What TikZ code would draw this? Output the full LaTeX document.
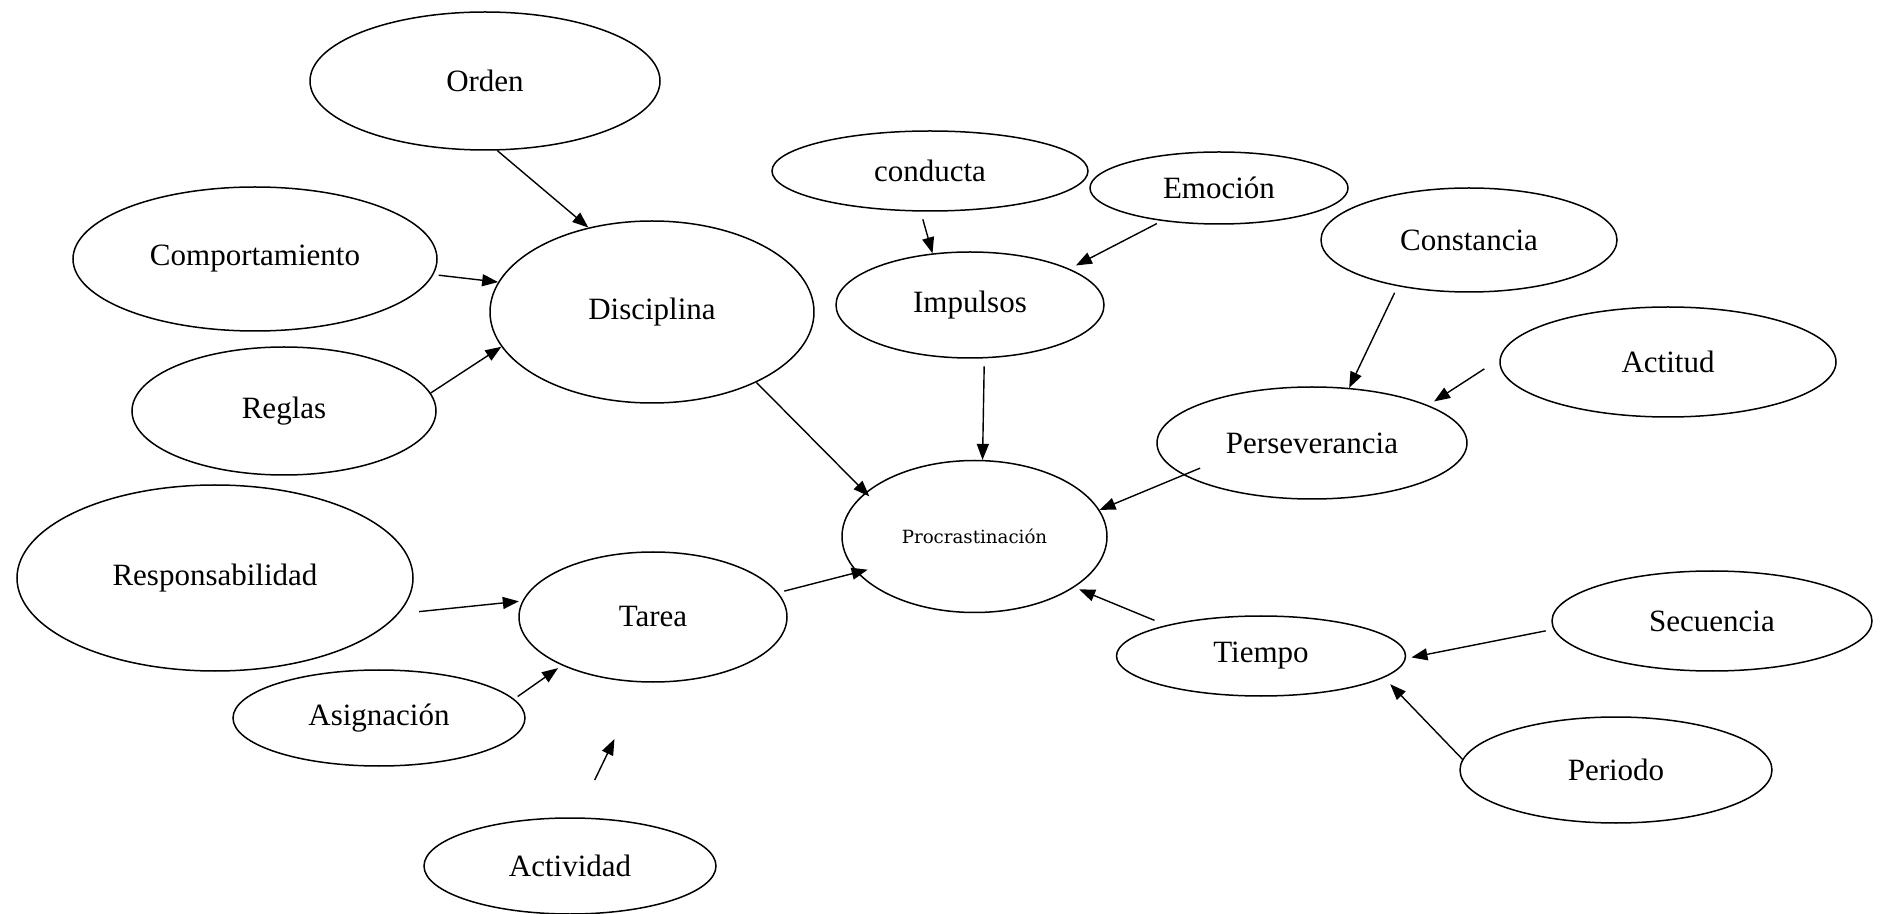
\documentclass[tikz,border=0pt]{standalone}
\usepackage{fontspec}
\setmainfont{Liberation Serif}
\newfontfamily\slabfont{DejaVu Serif}
\usetikzlibrary{shapes.geometric,arrows.meta}
\begin{document}
\begin{tikzpicture}[x=0.5pt,y=-0.5pt,
  ov/.style={ellipse, draw, line width=0.75pt, inner sep=0pt, font=\fontsize{15.5}{18}\selectfont},
  arr/.style={line width=0.7pt, -{Triangle[length=8pt,width=6pt]}}]
\path[use as bounding box] (0,0) rectangle (1881,914);
% nodes (centres in pixels, sizes in pt = radii in pixels)
\node[ov, minimum width=175pt, minimum height=69pt] (orden) at (485,81) {Orden};
\node[ov, minimum width=182pt, minimum height=72pt] (comp) at (255,259) {Comportamiento};
\node[ov, minimum width=162pt, minimum height=91pt] (disc) at (652,312) {Disciplina};
\node[ov, minimum width=152pt, minimum height=64pt] (reglas) at (284,411) {Reglas};
\node[ov, minimum width=198pt, minimum height=93pt] (resp) at (215,578) {Responsabilidad};
\node[ov, minimum width=134pt, minimum height=65pt] (tarea) at (653,617) {Tarea};
\node[ov, minimum width=146pt, minimum height=48pt] (asig) at (379,718) {Asignación};
\node[ov, minimum width=146pt, minimum height=48pt] (activ) at (570,866) {Actividad};
\node[ov, minimum width=158pt, minimum height=40pt] (cond) at (930,171) {conducta};
\node[ov, minimum width=129pt, minimum height=36pt] (emo) at (1219,188) {Emoción};
\node[ov, minimum width=134pt, minimum height=53pt] (imp) at (970,305) {Impulsos};
\node[ov, minimum width=132.5pt, minimum height=76pt, font=\slabfont\fontsize{9.1}{11}\selectfont] (proc) at (974.5,536.5) {Procrastinación};
\node[ov, minimum width=148pt, minimum height=52pt] (const) at (1469,240) {Constancia};
\node[ov, minimum width=168pt, minimum height=55pt] (actit) at (1668,362) {Actitud};
\node[ov, minimum width=155pt, minimum height=56pt] (pers) at (1312,443) {Perseverancia};
\node[ov, minimum width=144.5pt, minimum height=40pt] (tiempo) at (1261,656) {Tiempo};
\node[ov, minimum width=160pt, minimum height=50pt] (sec) at (1712,621) {Secuencia};
\node[ov, minimum width=156pt, minimum height=53pt] (periodo) at (1616,770) {Periodo};
\coordinate (actA) at (594.7,780);
\coordinate (actB) at (614.5,739);
% connectors
\draw[arr] (orden.-80) -- (disc.127.5);
\draw[arr, shorten <=2.6pt] (comp.-5.25) -- (disc.169);
\draw[arr] (reglas.7.4) -- (disc.193);
\draw[arr, shorten >=-2.75pt] (disc.-34) -- (proc.158.4);
\draw[arr, shorten <=4pt] (cond.257.2) -- (imp.126);
\draw[arr, shorten <=2.8pt, shorten >=3.6pt] (emo.210.5) -- (imp.20.9);
\draw[arr, shorten <=4pt] (imp.-75.6) -- (proc.84);
\draw[arr, shorten <=3.6pt] (const.213.1) -- (pers.56);
\draw[arr, shorten <=9pt, shorten >=3.5pt] (actit.179.8) -- (pers.18.15);
\draw[arr, shorten <=-9pt] (pers.194.2) -- (proc.12);
\draw[arr, shorten <=10.25pt, shorten >=1.75pt] (resp.-11.2) -- (tarea.173.9);
\draw[arr, shorten <=2.15pt, shorten >=2.35pt] (asig.8.06) -- (tarea.208.8);
\draw[arr] (actA) -- (actB);
\draw[arr, shorten <=3.15pt, shorten >=-5.6pt] (tarea.11.7) -- (proc.197.5);
\draw[arr, shorten <=6.25pt, shorten >=2.6pt] (tiempo.162) -- (proc.-27.9);
\draw[arr, shorten <=3.95pt, shorten >=2.8pt] (sec.183.6) -- (tiempo.-1.3);
\draw[arr, shorten >=4.5pt] (periodo.176.7) -- (tiempo.-10.7);
\end{tikzpicture}
\end{document}
